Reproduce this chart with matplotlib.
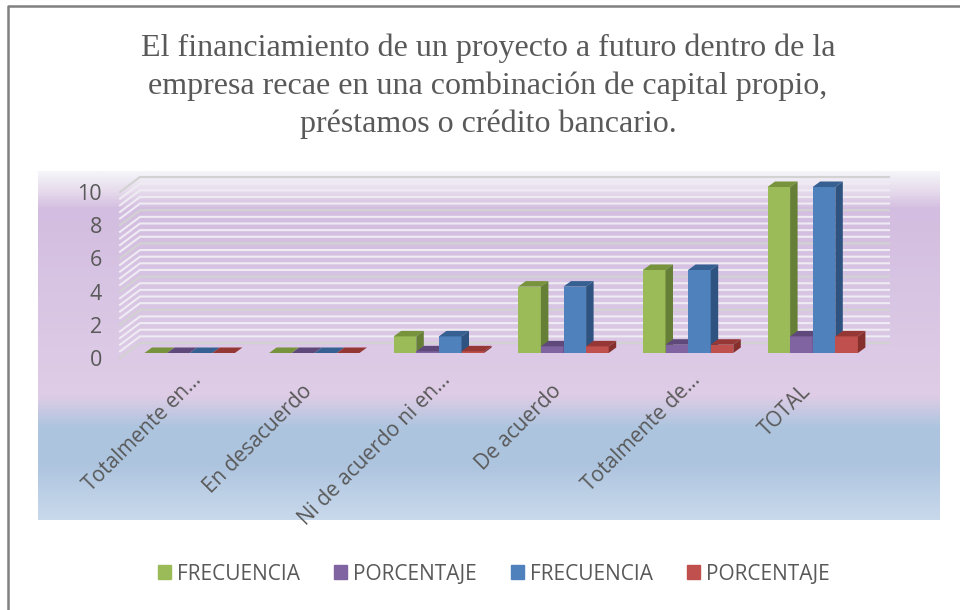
import matplotlib.pyplot as plt
import numpy as np
from matplotlib.colors import LinearSegmentedColormap
from matplotlib.lines import Line2D
from matplotlib.patches import Patch, Polygon
from matplotlib.transforms import Affine2D

title = (
    "El financiamiento de un proyecto a futuro dentro de la\n"
    "empresa recae en una combinación de capital propio,\n"
    "préstamos o crédito bancario."
)
categories = [
    "Totalmente en…",
    "En desacuerdo",
    "Ni de acuerdo ni en…",
    "De acuerdo",
    "Totalmente de…",
    "TOTAL",
]
frecuencia_1 = [0, 0, 1, 4, 5, 10]
porcentaje_1 = [0, 0, 0.1, 0.4, 0.5, 1]
frecuencia_2 = [0, 0, 1, 4, 5, 10]
porcentaje_2 = [0, 0, 0.1, 0.4, 0.5, 1]
series_names = ["FRECUENCIA", "PORCENTAJE", "FRECUENCIA", "PORCENTAJE"]
y_ticks = [0, 2, 4, 6, 8, 10]

FIG_W, FIG_H = 960, 610
TEXT_COLOR = "#595959"
FRONT_COLORS = ["#9BBB59", "#8064A2", "#4F81BD", "#C0504D"]
TOP_COLORS = ["#77933C", "#5F497A", "#376092", "#953735"]
SIDE_COLORS = ["#667F36", "#5A4474", "#2F5380", "#86302D"]


def px_axes(fig, left, top, right, bottom):
    return fig.add_axes([
        left / FIG_W,
        1 - bottom / FIG_H,
        (right - left) / FIG_W,
        (bottom - top) / FIG_H,
    ])


def draw_bar(ax, x, value, width, depth_x, depth_y, index, order):
    ax.bar(x, value, width, align="edge", color=FRONT_COLORS[index],
           zorder=order)
    top = [(x, value), (x + width, value),
           (x + width + depth_x, value + depth_y), (x + depth_x, value + depth_y)]
    side = [(x + width, 0), (x + width + depth_x, depth_y),
            (x + width + depth_x, value + depth_y), (x + width, value)]
    ax.add_patch(Polygon(top, color=TOP_COLORS[index], lw=0, zorder=order,
                         clip_on=False))
    ax.add_patch(Polygon(side, color=SIDE_COLORS[index], lw=0, zorder=order,
                         clip_on=False))


fig = plt.figure(figsize=(FIG_W / 100, FIG_H / 100), dpi=100)

# background band behind the plot
panel = px_axes(fig, 38, 171, 940, 520)
stops = [
    (0.00, "#F5F5F9"),
    (0.055, "#E6DBEC"),
    (0.105, "#D3BDE0"),
    (0.50, "#DBC9E5"),
    (0.645, "#DFCCE6"),
    (0.735, "#AEC5DF"),
    (0.84, "#ADC4DF"),
    (1.00, "#C9D9EC"),
]
cmap = LinearSegmentedColormap.from_list("panel", stops)
panel.imshow(np.linspace(0, 1, 350).reshape(-1, 1), cmap=cmap, aspect="auto")
panel.axis("off")

PX_X = 124.6
PX_Y = 16.6
wall_drop = 5 / PX_Y
wall_rise = 10 / PX_Y

# axes bottom sits at the front edge of the floor, 5 px under the bars
ax = px_axes(fig, 120, 187, 869, 358)
ax.patch.set_alpha(0)
for spine in ax.spines.values():
    spine.set_visible(False)

ax.set_xlim(-(189.7 - 120) / PX_X, (869 - 189.7) / PX_X)
ax.set_ylim(-wall_drop, 10)

# side and back wall, grid every 0.4
x_left, x_right = ax.get_xlim()
x_back = x_left + 20 / PX_X
x_back_right = x_right + 20 / PX_X
for level in np.arange(0, 10.01, 0.4):
    is_major = abs(level / 2 - round(level / 2)) < 1e-6
    ax.plot(
        [x_left, x_back, x_back_right],
        [level - wall_drop, level + wall_rise, level + wall_rise],
        color="#D2D2D2" if is_major else "#EFEBF3",
        lw=1.5,
        solid_joinstyle="miter",
        clip_on=False,
        zorder=1,
    )

# bars, left to right so each front hides the neighbour's side
all_series = [frecuencia_1, porcentaje_1, frecuencia_2, porcentaje_2]
bar_w = 22.6 / PX_X
depth_x = 7.5 / PX_X
depth_y = 5.5 / PX_Y
x_pos = np.arange(len(categories))
for group in x_pos:
    for index, values in enumerate(all_series):
        x = group - 2 * bar_w + index * bar_w
        draw_bar(ax, x, values[group], bar_w, depth_x, depth_y, index,
                 3 + index)

ax.set_yticks(np.array(y_ticks) - wall_drop, labels=y_ticks)
ax.set_ylim(-wall_drop, 10)
ax.set_xlim(x_left, x_right)
ax.tick_params(axis="y", length=0, pad=13, labelsize=15.5,
               labelcolor=TEXT_COLOR)
for label in ax.get_yticklabels():
    label.set_fontfamily("Open Sans")

ax.set_xticks(x_pos + 0.012, labels=categories, rotation=45, ha="right",
              rotation_mode="anchor", fontfamily="Open Sans", fontsize=15,
              color=TEXT_COLOR)
ax.tick_params(axis="x", length=0, pad=8.4)

# full labels end earlier than the cut ones in the reference
for label in ax.get_xticklabels():
    if not label.get_text().endswith("…"):
        label.set_transform(label.get_transform() + Affine2D().translate(-14, -11))

fig.text(488 / FIG_W, 1 - 86 / FIG_H, title, ha="center", va="center",
         fontfamily="Liberation Serif", fontsize=23, color=TEXT_COLOR,
         linespacing=1.37)

handles = [Patch(color=c) for c in FRONT_COLORS]
fig.legend(
    handles,
    series_names,
    loc="center",
    bbox_to_anchor=(494 / FIG_W, 1 - 574 / FIG_H),
    ncol=4,
    frameon=False,
    handlelength=0.62,
    handleheight=0.62,
    handletextpad=0.3,
    columnspacing=1.63,
    prop={"family": "Open Sans", "size": 15},
    labelcolor=TEXT_COLOR,
)

# frame of the pasted picture: only top and left show
fig.add_artist(Line2D([8 / FIG_W, 8 / FIG_W, 1], [0, 1 - 6 / FIG_H, 1 - 6 / FIG_H],
                      color="#808080", lw=1.8))

fig.savefig("out.png", dpi=100)
